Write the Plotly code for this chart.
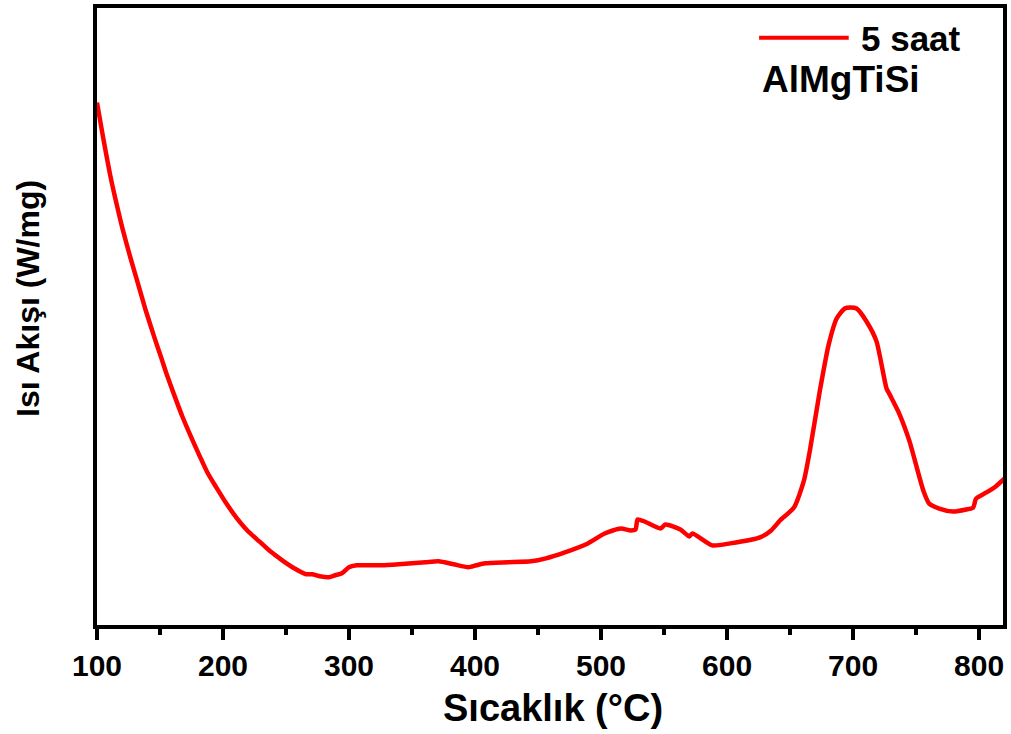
import plotly.graph_objects as go

# Temperature (°C)
temperature = [100, 104.7, 110.3, 115.0, 120.5, 126.1, 131.6, 138.7, 145.8, 150.6, 155.3, 161.6,
               167.9, 174.3, 181.4, 187.7, 194.8, 202.7, 210.6, 219.3, 228.8, 237.5, 247.0, 256.5,
               265.9, 270.7, 277, 284.1, 289, 294.4, 299.9, 306, 313.3, 326, 339.4, 350, 360.7,
               371.0, 383, 394.7, 401, 408.1, 426.3, 444.5, 456.3, 471.3, 489.5, 502.9, 515.6,
               523.5, 527.4, 529.0, 534.5, 547.2, 551.1, 563.0, 570.1, 572.5, 588.3, 602.5, 626.2,
               635, 642.0, 653.1, 661.0, 665.7, 673.6, 680.7, 687.0, 693.4, 698, 702.8, 710.7,
               718.6, 726.5, 728.9, 736.8, 744.7, 755.8, 760.5, 768.4, 779.5, 789.7, 795.3, 797.6,
               805.5, 813, 820]
# Heat flow (arbitrary units, W/mg axis without tick labels)
heat_flow = [5.25, 4.91, 4.53, 4.26, 3.97, 3.71, 3.47, 3.16, 2.88, 2.70, 2.52, 2.30,
             2.09, 1.90, 1.70, 1.53, 1.38, 1.22, 1.08, 0.95, 0.84, 0.74, 0.65, 0.57,
             0.51, 0.51, 0.49, 0.48, 0.50, 0.52, 0.58, 0.60, 0.60, 0.60, 0.61, 0.62, 0.63,
             0.64, 0.61, 0.58, 0.60, 0.62, 0.63, 0.64, 0.67, 0.73, 0.82, 0.92, 0.97,
             0.95, 0.96, 1.06, 1.04, 0.97, 1.01, 0.96, 0.89, 0.92, 0.80, 0.82, 0.88,
             0.95, 1.05, 1.18, 1.45, 1.75, 2.35, 2.82, 3.08, 3.18, 3.19, 3.18, 3.05,
             2.85, 2.38, 2.32, 2.12, 1.85, 1.35, 1.22, 1.17, 1.14, 1.16, 1.18, 1.27,
             1.33, 1.39, 1.47]

x_tick_values = [100, 200, 300, 400, 500, 600, 700, 800]
x_tick_labels = ["100", "200", "300", "400", "500", "600", "700", "800"]

FONT = "Arial, Liberation Sans, sans-serif"

fig = go.Figure()
fig.add_trace(go.Scatter(
    x=temperature, y=heat_flow, mode="lines",
    line=dict(color="#ff0000", width=4.5, shape="spline", smoothing=0.6),
    name="5 saat", showlegend=False,
))

fig.update_layout(
    width=1011, height=734,
    margin=dict(l=97, r=4, t=5, b=109),
    paper_bgcolor="white", plot_bgcolor="white",
    font=dict(family=FONT, color="black"),
    xaxis=dict(
        range=[100, 819], showgrid=False, zeroline=False,
        showline=True, linecolor="black", linewidth=4, mirror=True,
        tickmode="array", tickvals=x_tick_values, ticktext=x_tick_labels,
        ticks="outside", ticklen=11, tickwidth=4, tickcolor="black",
        tickfont=dict(family=FONT, size=30, color="black", weight="bold"),
        minor=dict(dtick=50, tick0=0, ticks="outside", ticklen=6, tickwidth=4, tickcolor="black"),
    ),
    yaxis=dict(
        range=[0, 6.2], showgrid=False, zeroline=False,
        showline=True, linecolor="black", linewidth=4, mirror=True,
        showticklabels=False, ticks="",
    ),
    shapes=[
        dict(type="line", xref="paper", yref="paper", x0=0.7308, x1=0.8297, y0=0.9516, y1=0.9516,
             line=dict(color="#ff0000", width=4)),
    ],
    annotations=[
        dict(text="<b>Sıcaklık (°C)</b>", xref="paper", yref="paper", x=0.503, y=-0.134,
             xanchor="center", yanchor="middle", showarrow=False,
             font=dict(family=FONT, size=38, color="black")),
        dict(text="<b>Isı Akışı (W/mg)</b>", xref="paper", yref="paper", x=-0.0769, y=0.529,
             xanchor="center", yanchor="middle", showarrow=False, textangle=-90,
             font=dict(family=FONT, size=32, color="black")),
        dict(text="<b>5 saat</b>", xref="paper", yref="paper", x=0.8407, y=0.950,
             xanchor="left", yanchor="middle", showarrow=False,
             font=dict(family=FONT, size=35, color="black")),
        dict(text="<b>AlMgTiSi</b>", xref="paper", yref="paper", x=0.7319, y=0.884,
             xanchor="left", yanchor="middle", showarrow=False,
             font=dict(family=FONT, size=37, color="black")),
    ],
)

fig.write_html("out.html")
